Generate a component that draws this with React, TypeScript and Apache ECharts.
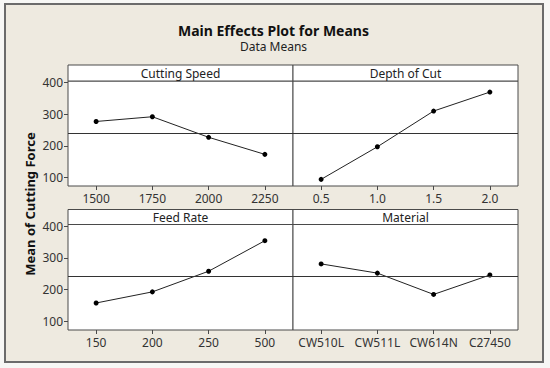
import React, { useEffect, useRef } from "react";
import * as echarts from "echarts";

const speedCats = ["1500", "1750", "2000", "2250"];
const speedVals = [277, 292, 227, 173];
const depthCats = ["0.5", "1.0", "1.5", "2.0"];
const depthVals = [94, 197, 310, 370];
const feedCats = ["150", "200", "250", "500"];
const feedVals = [158, 193, 258, 354];
const materialCats = ["CW510L", "CW511L", "CW614N", "C27450"];
const materialVals = [281, 252, 185, 246];
const panelTitles = ["Cutting Speed", "Depth of Cut", "Feed Rate", "Material"];
const grandMean = 241;
const yTicks = [100, 200, 300, 400];

const FONT = "'Noto Sans', 'Liberation Sans', sans-serif";

export default function App() {
  const ref = useRef<HTMLDivElement>(null);
  useEffect(() => {
    if (!ref.current) return;
    const chart = echarts.init(ref.current, null, { renderer: "svg" });
    const cats = [speedCats, depthCats, feedCats, materialCats];
    const vals = [speedVals, depthVals, feedVals, materialVals];
    const grids = [
      { left: 68, top: 81, width: 225, height: 105 },
      { left: 293, top: 81, width: 225, height: 105 },
      { left: 68, top: 224.5, width: 225, height: 105.5 },
      { left: 293, top: 224.5, width: 225, height: 105.5 },
    ];
    const strips = [
      { x: 68, y: 65 },
      { x: 293, y: 65 },
      { x: 68, y: 209.5 },
      { x: 293, y: 209.5 },
    ];
    const graphics: any[] = [];
    strips.forEach((s, i) => {
      const h = grids[i].top - s.y;
      graphics.push({
        type: "rect",
        shape: { x: s.x, y: s.y, width: 225, height: h },
        style: { fill: "#ffffff", stroke: "#4a4a4a", lineWidth: 1 },
      });
      graphics.push({
        type: "text",
        x: s.x + 112.5,
        y: s.y + h / 2 + 0.5,
        style: {
          text: panelTitles[i],
          fontFamily: FONT,
          fontSize: 12,
          fill: "#222",
          align: "center",
          verticalAlign: "middle",
        },
      });
    });
    graphics.push({
      type: "text",
      x: 273.5,
      y: 30,
      style: {
        text: "Main Effects Plot for Means",
        fontFamily: FONT,
        fontWeight: "bold",
        fontSize: 14,
        fill: "#111",
        align: "center",
        verticalAlign: "middle",
      },
    });
    graphics.push({
      type: "text",
      x: 273.5,
      y: 46.5,
      style: {
        text: "Data Means",
        fontFamily: FONT,
        fontSize: 12,
        fill: "#222",
        align: "center",
        verticalAlign: "middle",
      },
    });
    graphics.push({
      type: "text",
      x: 30,
      y: 204,
      rotation: Math.PI / 2,
      style: {
        text: "Mean of Cutting Force",
        fontFamily: FONT,
        fontWeight: "bold",
        fontSize: 13,
        fill: "#111",
        align: "center",
        verticalAlign: "middle",
      },
    });

    const option: any = {
      animation: false,
      backgroundColor: "transparent",
      grid: grids.map((g) => ({
        ...g,
        show: true,
        backgroundColor: "#ffffff",
        borderColor: "#4a4a4a",
        borderWidth: 1,
      })),
      xAxis: cats.map((c, i) => ({
        type: "category",
        gridIndex: i,
        data: c,
        boundaryGap: true,
        axisLine: { show: false },
        axisTick: {
          show: true,
          alignWithLabel: true,
          interval: 0,
          length: 4,
          lineStyle: { color: "#4a4a4a" },
        },
        axisLabel: {
          interval: 0,
          hideOverlap: false,
          margin: 6,
          fontFamily: FONT,
          fontSize: 12,
          color: "#333",
        },
        splitLine: { show: false },
      })),
      yAxis: cats.map((_, i) => ({
        type: "value",
        gridIndex: i,
        min: 73,
        max: 405,
        axisLine: { show: false },
        axisTick: {
          show: i % 2 === 0,
          length: 4,
          customValues: yTicks,
          lineStyle: { color: "#4a4a4a" },
        },
        axisLabel: {
          show: i % 2 === 0,
          customValues: yTicks,
          margin: 5,
          fontFamily: FONT,
          fontSize: 12,
          color: "#333",
        },
        splitLine: { show: false },
      })),
      series: vals.map((v, i) => ({
        type: "line",
        xAxisIndex: i,
        yAxisIndex: i,
        data: v,
        symbol: "circle",
        symbolSize: 5,
        lineStyle: { color: "#222", width: 1 },
        itemStyle: { color: "#000" },
        markLine: {
          silent: true,
          symbol: ["none", "none"],
          label: { show: false },
          lineStyle: { color: "#333", type: "solid", width: 1 },
          data: [{ yAxis: grandMean }],
        },
      })),
      graphic: graphics,
    };
    chart.setOption(option);
    return () => chart.dispose();
  }, []);

  return (
    <div
      style={{
        position: "fixed",
        left: 0,
        top: 0,
        width: 550,
        height: 368,
        background: "#f7f7f5",
      }}
    >
      <div
        style={{
          position: "absolute",
          left: 4,
          top: 3,
          width: 536,
          height: 356,
          border: "2px solid #6b6b6b",
          background: "#eeeae0",
        }}
      />
      <div
        ref={ref}
        style={{ position: "absolute", left: 0, top: 0, width: 550, height: 368 }}
      />
    </div>
  );
}
